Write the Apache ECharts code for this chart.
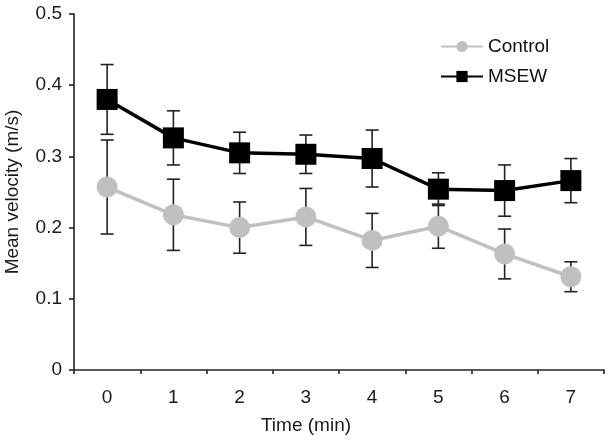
<!DOCTYPE html>
<html><head><meta charset="utf-8">
<script src="https://cdn.jsdelivr.net/npm/echarts@6/dist/echarts.min.js"></script>
<style>html,body{margin:0;padding:0;background:#fff}#c{width:614px;height:443px}</style>
</head><body><div id="c"></div>
<script>
const categories = ['0','1','2','3','4','5','6','7'];
const controlMean = [0.257, 0.218, 0.200, 0.215, 0.182, 0.202, 0.163, 0.131];
const controlErr  = [0.066, 0.050, 0.036, 0.040, 0.038, 0.031, 0.035, 0.021];
const msewMean    = [0.380, 0.326, 0.305, 0.303, 0.297, 0.254, 0.252, 0.266];
const msewErr     = [0.049, 0.038, 0.029, 0.027, 0.040, 0.023, 0.036, 0.031];
const yTicks = [0, 0.1, 0.2, 0.3, 0.4, 0.5];

function errData(mean, err){ return mean.map((m,i)=>[i, m-err[i], m+err[i]]); }
function errRender(params, api){
  const x = api.value(0);
  const lo = api.coord([x, api.value(1)]);
  const hi = api.coord([x, api.value(2)]);
  const hw = 6.5;
  const st = {stroke:'#222', lineWidth:1.6};
  return {type:'group', children:[
    {type:'line', shape:{x1:hi[0],y1:hi[1],x2:lo[0],y2:lo[1]}, style:st},
    {type:'line', shape:{x1:hi[0]-hw,y1:hi[1],x2:hi[0]+hw,y2:hi[1]}, style:st},
    {type:'line', shape:{x1:lo[0]-hw,y1:lo[1],x2:lo[0]+hw,y2:lo[1]}, style:st}
  ]};
}
const font = 'Liberation Sans, Arial, sans-serif';
const fs = 19;
const chart = echarts.init(document.getElementById('c'));
chart.setOption({
  animation:false,
  backgroundColor:'#fff',
  grid:{left:74, right:10, top:14, bottom:73, containLabel:false, outerBoundsMode:'none'},
  legend:{
    orient:'vertical', left:435, top:32, itemGap:11,
    itemWidth:42, itemHeight:14,
    textStyle:{fontFamily:font, fontSize:fs, color:'#111'},
    data:['Control','MSEW']
  },
  xAxis:{
    type:'category', data:categories, boundaryGap:true,
    axisLine:{lineStyle:{color:'#222', width:1.6}},
    axisTick:{show:true, length:4, inside:false, lineStyle:{color:'#222', width:1.6}},
    axisLabel:{fontFamily:font, fontSize:fs, color:'#1a1a1a', margin:18},
    name:'Time (min)', nameLocation:'middle', nameGap:46,
    nameTextStyle:{fontFamily:font, fontSize:fs, color:'#1a1a1a', padding:[0,66,0,0]}
  },
  yAxis:{
    type:'value', min:0, max:0.5, interval:0.1,
    axisLine:{show:true, lineStyle:{color:'#222', width:1.6}},
    axisTick:{show:true, length:5, lineStyle:{color:'#222', width:1.6}},
    splitLine:{show:false},
    axisLabel:{fontFamily:font, fontSize:fs, color:'#1a1a1a', margin:12,
      formatter:v=>{ const t=yTicks.find(k=>Math.abs(k-v)<1e-9); return t===0?'0':String(t); }},
    name:'Mean velocity (m/s)', nameLocation:'middle', nameGap:52,
    nameTextStyle:{fontFamily:font, fontSize:fs, color:'#1a1a1a'}
  },
  series:[
    {type:'custom', name:'ctrlErr', data:errData(controlMean, controlErr), renderItem:errRender, z:1, silent:true},
    {type:'custom', name:'msewErr', data:errData(msewMean, msewErr), renderItem:errRender, z:1, silent:true},
    {type:'line', name:'Control', data:controlMean, z:3,
      symbol:'circle', symbolSize:21, color:'#c0c0c0',
      lineStyle:{color:'#c0c0c0', width:3.5}, itemStyle:{color:'#c0c0c0'}},
    {type:'line', name:'MSEW', data:msewMean, z:4,
      symbol:'rect', symbolSize:21, color:'#000',
      lineStyle:{color:'#000', width:3.5}, itemStyle:{color:'#000'}}
  ]
});
</script></body></html>
